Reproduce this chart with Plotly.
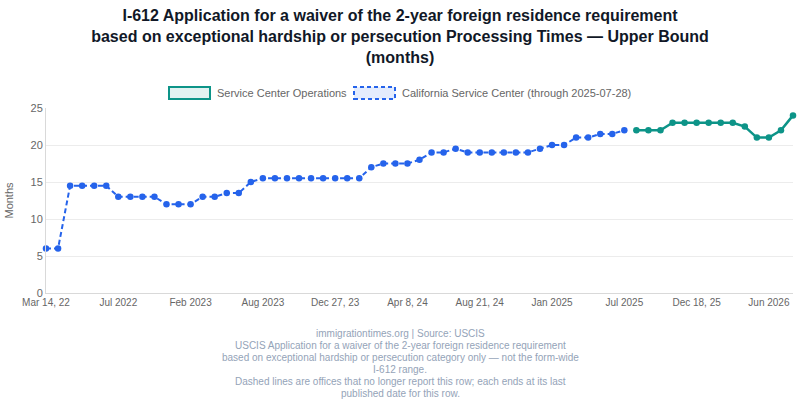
import plotly.graph_objects as go

# observation slots (one per published processing-time update)
n_points = 63
tick_positions = [0, 6, 12, 18, 24, 30, 36, 42, 48, 54, 60]
tick_labels = ["Mar 14, 22", "Jul 2022", "Feb 2023", "Aug 2023", "Dec 27, 23",
               "Apr 8, 24", "Aug 21, 24", "Jan 2025", "Jul 2025", "Dec 18, 25", "Jun 2026"]

# California Service Center (dashed, ends 2025-07-28)
csc_months = [6, 6, 14.5, 14.5, 14.5, 14.5, 13, 13, 13, 13,
              12, 12, 12, 13, 13, 13.5, 13.5, 15, 15.5, 15.5,
              15.5, 15.5, 15.5, 15.5, 15.5, 15.5, 15.5, 17, 17.5, 17.5,
              17.5, 18, 19, 19, 19.5, 19, 19, 19, 19, 19,
              19, 19.5, 20, 20, 21, 21, 21.5, 21.5, 22]

# Service Center Operations
sco_months = [22, 22, 22, 23, 23, 23, 23, 23, 23, 22.5, 21, 21, 22, 24]

csc_x = list(range(len(csc_months)))
sco_x = list(range(n_points - len(sco_months), n_points))

TEAL = "#0d9488"
BLUE = "#2563eb"
GREY = "#666666"
FONT = "Liberation Sans, Arial, sans-serif"

fig = go.Figure()

fig.add_trace(go.Scatter(
    x=csc_x, y=csc_months, mode="lines+markers",
    line=dict(color=BLUE, width=2, dash="5px,3px"),
    marker=dict(color=BLUE, size=6.5),
    cliponaxis=False, showlegend=False,
    name="California Service Center (through 2025-07-28)",
))
fig.add_trace(go.Scatter(
    x=sco_x, y=sco_months, mode="lines+markers",
    line=dict(color=TEAL, width=2.5),
    marker=dict(color=TEAL, size=6.5),
    cliponaxis=False, showlegend=False,
    name="Service Center Operations",
))

# chart.js-style legend boxes drawn by hand
legend_items = [
    ("Service Center Operations", TEAL, "rgba(13,148,136,0.12)", "solid", 169, 215),
    ("California Service Center (through 2025-07-28)", BLUE, "rgba(37,99,235,0.12)", "4px,3px", 354, 400),
]
shapes = []
annotations = []
for label, col, fill, dash, bx, tx in legend_items:
    shapes.append(dict(type="rect", xref="paper", yref="paper",
                       x0=(bx - 46) / 747, x1=(bx + 41 - 46) / 747,
                       y0=(293 - 99) / 185, y1=(293 - 87) / 185,
                       line=dict(color=col, width=2, dash=dash), fillcolor=fill))
    annotations.append(dict(text=label, xref="paper", yref="paper",
                            x=(tx - 46) / 747, y=(293 - 93) / 185,
                            xanchor="left", yanchor="middle", showarrow=False,
                            font=dict(size=11, color=GREY, family=FONT)))

footer_lines = [
    "immigrationtimes.org | Source: USCIS",
    "USCIS Application for a waiver of the 2-year foreign residence requirement",
    "based on exceptional hardship or persecution category only — not the form-wide",
    "I-612 range.",
    "Dashed lines are offices that no longer report this row; each ends at its last",
    "published date for this row.",
]
for i, line in enumerate(footer_lines):
    annotations.append(dict(text=line, xref="paper", yref="paper",
                            x=(400 - 46) / 747, y=0, xanchor="center", yanchor="middle",
                            yshift=-(333 + i * 12 - 293), showarrow=False,
                            font=dict(size=10, color="#94a3b8", family=FONT)))

fig.update_layout(
    width=800, height=400,
    margin=dict(l=46, r=7, t=108, b=107),
    paper_bgcolor="white", plot_bgcolor="white",
    font=dict(family=FONT, color=GREY),
    title=dict(
        text="<b>I-612 Application for a waiver of the 2-year foreign residence requirement<br>"
             "based on exceptional hardship or persecution Processing Times — Upper Bound<br>"
             "(months)</b>",
        x=0.5, xanchor="center", y=0.9475, yanchor="top",
        font=dict(size=16, color="#111827", family=FONT),
    ),
    xaxis=dict(
        range=[0, n_points - 1], tickmode="array",
        tickvals=tick_positions, ticktext=tick_labels,
        showgrid=False, zeroline=False, showline=True, linecolor="#d9d9d9",
        ticks="", tickfont=dict(size=10, color=GREY),
    ),
    yaxis=dict(
        range=[0, 25], dtick=5, showgrid=True, gridcolor="#ececec",
        zeroline=False, showline=True, linecolor="#d9d9d9",
        ticks="", tickfont=dict(size=11, color=GREY),
        title=dict(text="Months", font=dict(size=11, color=GREY), standoff=14),
    ),
    shapes=shapes,
    annotations=annotations,
)

fig.write_html("out.html", config={"displayModeBar": False},
               post_script="document.body.style.margin='0';")
